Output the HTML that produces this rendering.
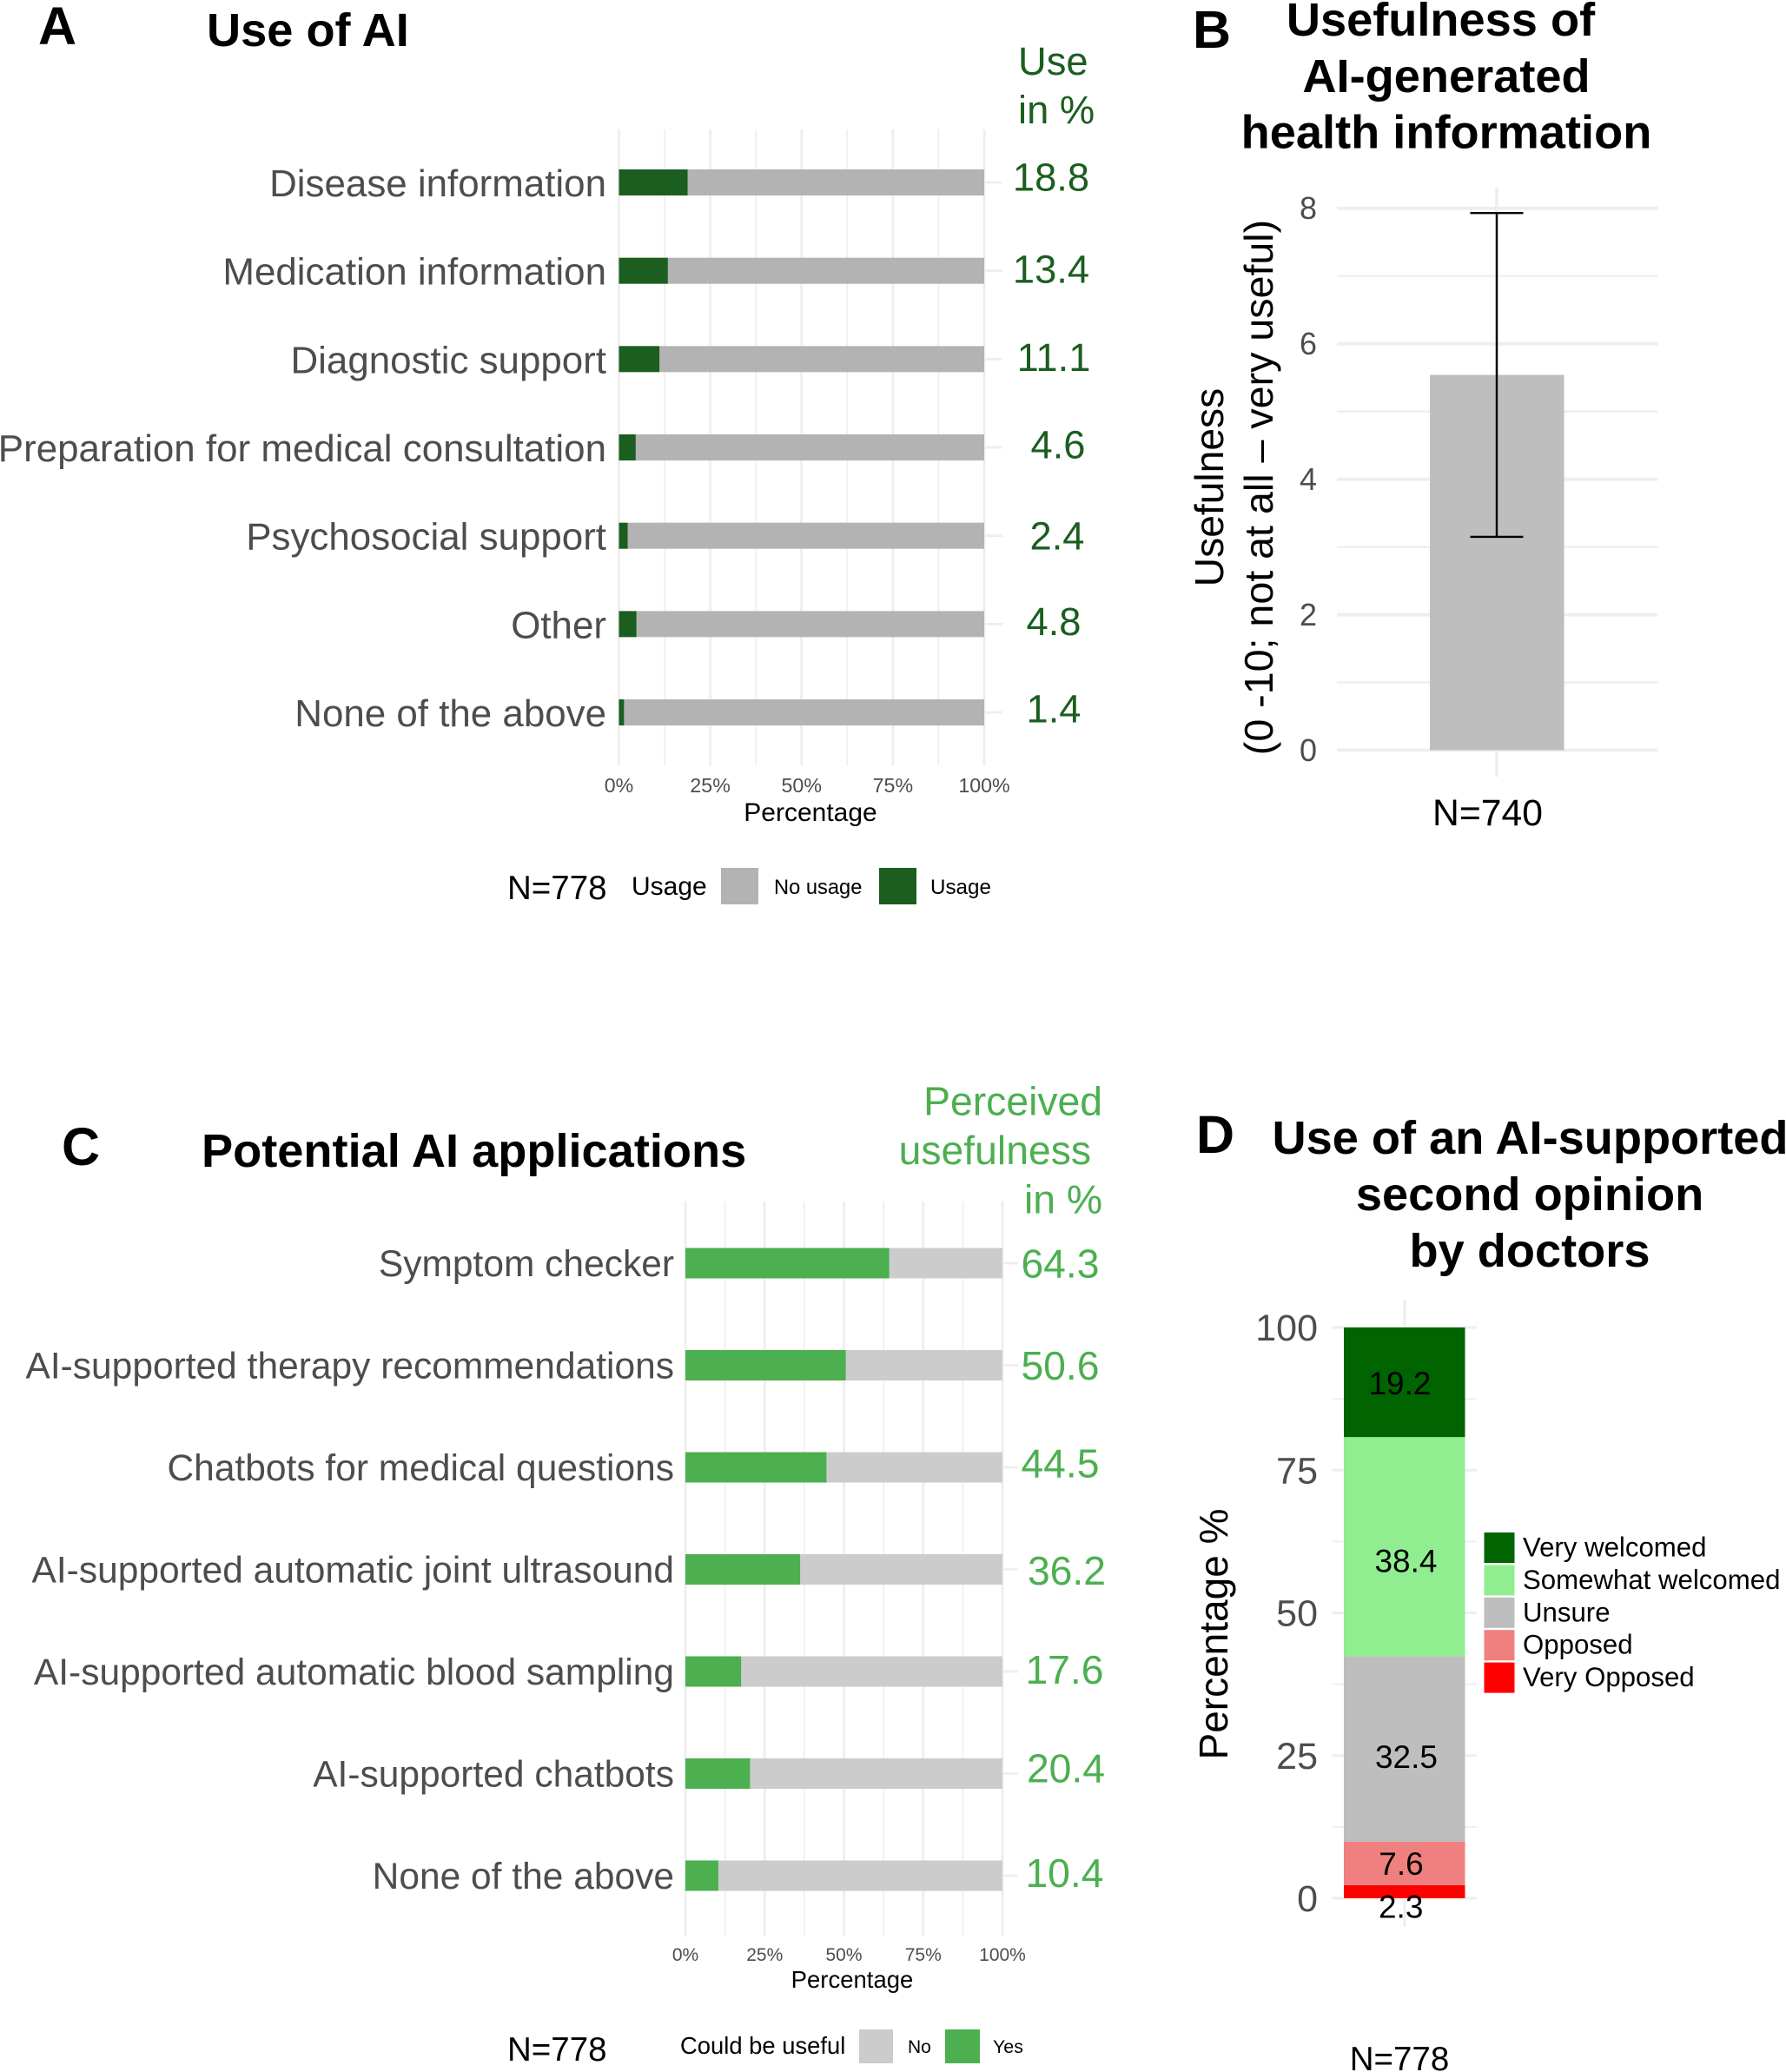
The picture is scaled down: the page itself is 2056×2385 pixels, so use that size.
<!DOCTYPE html>
<html lang="en">
<head>
<meta charset="utf-8">
<title>Use of AI survey figure</title>
<style>
html,body{margin:0;padding:0;background:#fff;}
svg{display:block;}
text{font-family:"Liberation Sans",Arial,sans-serif;}
.title{font-weight:700;font-size:54.2px;fill:#000;}
.letter{font-weight:700;font-size:61px;fill:#000;}
</style>
</head>
<body>
<svg id="figure" xmlns="http://www.w3.org/2000/svg" width="2056" height="2385" viewBox="0 0 2056 2385">
  <rect x="0" y="0" width="2056" height="2385" fill="#ffffff"/>

  <g id="panel-a">
    <text class="letter" x="44" y="51">A</text>
    <text class="title" x="238" y="53">Use of AI</text>
    <text x="1172" y="86" font-size="45.3" fill="#1B5E20">Use</text>
    <text x="1172" y="142" font-size="45.3" fill="#1B5E20">in %</text>
    <text x="933" y="945" font-size="30" fill="#000" text-anchor="middle">Percentage</text>
    <text x="584" y="1035" font-size="38.5" fill="#000">N=778</text>
    <text x="727" y="1030" font-size="30" fill="#000">Usage</text>
    <rect x="830" y="999" width="43" height="42" fill="#B3B3B3"/>
    <text x="891" y="1029" font-size="23.7" fill="#000">No usage</text>
    <rect x="1012" y="999" width="43" height="42" fill="#1B5E20"/>
    <text x="1071" y="1029" font-size="24.2" fill="#000">Usage</text>
  </g>

  <g id="panel-b">
    <text class="letter" x="1373" y="55">B</text>
    <text class="title" x="1658.5" y="41" text-anchor="middle">Usefulness of</text>
    <text class="title" x="1665" y="106" text-anchor="middle">AI-generated</text>
    <text class="title" x="1665" y="170.5" text-anchor="middle">health information</text>
    <text transform="translate(1408 561) rotate(-90)" font-size="46.2" fill="#000" text-anchor="middle">Usefulness</text>
    <text transform="translate(1465 561) rotate(-90)" font-size="46.6" fill="#000" text-anchor="middle">(0 -10; not at all – very useful)</text>
    <text x="1712.5" y="950" font-size="42.7" fill="#000" text-anchor="middle">N=740</text>
  </g>

  <g id="panel-c">
    <text class="letter" x="71" y="1341">C</text>
    <text class="title" x="232" y="1343">Potential AI applications</text>
    <text x="1269" y="1283.5" font-size="46.3" fill="#4CAF50" text-anchor="end">Perceived</text>
    <text x="1256" y="1340" font-size="46.3" fill="#4CAF50" text-anchor="end">usefulness</text>
    <text x="1269" y="1396.5" font-size="46.3" fill="#4CAF50" text-anchor="end">in %</text>
    <text x="981" y="2288" font-size="27.5" fill="#000" text-anchor="middle">Percentage</text>
    <text x="584" y="2372" font-size="38.5" fill="#000">N=778</text>
    <text x="783" y="2364" font-size="27.4" fill="#000">Could be useful</text>
    <rect x="989" y="2336" width="39" height="39" fill="#CCCCCC"/>
    <text x="1045" y="2363" font-size="21" fill="#000">No</text>
    <rect x="1088" y="2336" width="40" height="39" fill="#4CAF50"/>
    <text x="1143" y="2363" font-size="21.4" fill="#000">Yes</text>
  </g>

  <g id="panel-d">
    <text class="letter" x="1377" y="1327">D</text>
    <text class="title" x="1761.5" y="1328" text-anchor="middle">Use of an AI-supported</text>
    <text class="title" x="1761" y="1393" text-anchor="middle">second opinion</text>
    <text class="title" x="1761" y="1458" text-anchor="middle">by doctors</text>
    <text transform="translate(1413 1881) rotate(-90)" font-size="46" fill="#000" text-anchor="middle">Percentage %</text>
    <text x="1611" y="2383" font-size="38.5" fill="#000" text-anchor="middle">N=778</text>
  </g>
</svg>

<script>
// ---- Panel A data ----
const useCategories = ["Disease information","Medication information","Diagnostic support","Preparation for medical consultation","Psychosocial support","Other","None of the above"];
const useValues = [18.8,13.4,11.1,4.6,2.4,4.8,1.4];
const percentTicks = [0,25,50,75,100];
const percentMinorTicks = [12.5,37.5,62.5,87.5];

// ---- Panel B data ----
const usefulnessMean = [5.54];
const usefulnessSd = [2.39];
const usefulnessTicks = [0,2,4,6,8];
const usefulnessMinorTicks = [1,3,5,7];

// ---- Panel C data ----
const appCategories = ["Symptom checker","AI-supported therapy recommendations","Chatbots for medical questions","AI-supported automatic joint ultrasound","AI-supported automatic blood sampling","AI-supported chatbots","None of the above"];
const appValues = [64.3,50.6,44.5,36.2,17.6,20.4,10.4];

// ---- Panel D data (bottom to top) ----
const opinionLevels = ["Very Opposed","Opposed","Unsure","Somewhat welcomed","Very welcomed"];
const opinionValues = [2.3,7.6,32.5,38.4,19.2];
const opinionTicks = [0,25,50,75,100];
const opinionMinorTicks = [12.5,37.5,62.5,87.5];

const NS = "http://www.w3.org/2000/svg";
const GRID = "#EEEEEE";
const AXIS_TEXT = "#4D4D4D";

function make(parent, tag, attrs, content) {
  const el = document.createElementNS(NS, tag);
  Object.keys(attrs).forEach(function (k) { el.setAttribute(k, attrs[k]); });
  if (content !== undefined) el.textContent = content;
  parent.appendChild(el);
  return el;
}
function slug(s) {
  return String(s).toLowerCase().replace(/[^a-z0-9]+/g, "-").replace(/^-|-$/g, "");
}

function drawStackedRows(cfg) {
  const g = document.getElementById(cfg.panel);
  const x = function (v) { return cfg.x0 + v * cfg.xUnit; };
  const y = function (i) { return cfg.y0 + i * cfg.rowStep; };

  cfg.minorTicks.forEach(function (t) {
    const el = make(g, "line", {x1:x(t), x2:x(t), y1:cfg.gridTop, y2:cfg.gridBottom, stroke:GRID, "stroke-width":1.6});
    
    
  });
  cfg.ticks.forEach(function (t) {
    const el = make(g, "line", {x1:x(t), x2:x(t), y1:cfg.gridTop, y2:cfg.gridBottom, stroke:GRID, "stroke-width":2.8});
    
    
    const lab = make(g, "text", {x:x(t), y:cfg.tickBaseline, "font-size":cfg.tickSize, fill:AXIS_TEXT, "text-anchor":"middle"}, t + "%");
    
    
  });

  cfg.categories.forEach(function (cat, i) {
    const v = cfg.values[i];
    const stub = make(g, "line", {x1:x(0), x2:cfg.stubEnd, y1:y(i), y2:y(i), stroke:GRID, "stroke-width":2.8});
    
    

    const rest = make(g, "rect", {x:x(v), y:y(i) - cfg.barH / 2, width:x(100) - x(v), height:cfg.barH, fill:cfg.restColor});
    
    

    const main = make(g, "rect", {x:x(0), y:y(i) - cfg.barH / 2, width:x(v) - x(0), height:cfg.barH, fill:cfg.color});
    
    

    const lab = make(g, "text", {x:cfg.labelEnd, y:y(i) + cfg.labelDy, "font-size":cfg.labelSize, fill:AXIS_TEXT, "text-anchor":"end"}, cat);
    
    

    const nudge = cfg.valueNudge[i];
    const val = make(g, "text", {x:nudge[0], y:y(i) + nudge[1], "font-size":cfg.valueSize, fill:cfg.color, "text-anchor":"middle"}, v.toFixed(1));
    
    
  });
}

drawStackedRows({
  panel:"panel-a", categories:useCategories, values:useValues, ticks:percentTicks, minorTicks:percentMinorTicks,
  x0:712.5, xUnit:4.205, y0:210, rowStep:101.67, barH:30, gridTop:149, gridBottom:881, stubEnd:1154,
  color:"#1B5E20", restColor:"#B3B3B3", labelEnd:698, labelDy:16, labelSize:43.9,
  valueSize:45.3, tickSize:23.2, tickBaseline:912,
  valueNudge:[[1210,9.5],[1210,14],[1213,13.5],[1218,12.5],[1217,16],[1213,12.5],[1213,11.5]]
});

drawStackedRows({
  panel:"panel-c", categories:appCategories, values:appValues, ticks:percentTicks, minorTicks:percentMinorTicks,
  x0:789, xUnit:3.65, y0:1454, rowStep:117.5, barH:35, gridTop:1383, gridBottom:2229, stubEnd:1172,
  color:"#4CAF50", restColor:"#CCCCCC", labelEnd:776, labelDy:15, labelSize:42.5,
  valueSize:46.3, tickSize:21, tickBaseline:2257,
  valueNudge:[[1220.5,16.5],[1220.5,16.5],[1220.5,11.5],[1228,17.5],[1225.5,14],[1227,10],[1225.5,13]]
});

// ---- Panel B ----
(function () {
  const g = document.getElementById("panel-b");
  const cx = 1723;
  const y = function (v) { return 863.5 - v * 77.97; };
  const barLeft = 1646, barRight = 1800.5, capHalf = 30.5, gridL = 1539, gridR = 1908.5;

  const vg = make(g, "line", {x1:cx, x2:cx, y1:216, y2:894, stroke:GRID, "stroke-width":3.6});
  
  

  usefulnessMinorTicks.forEach(function (t) {
    const el = make(g, "line", {x1:gridL, x2:gridR, y1:y(t), y2:y(t), stroke:GRID, "stroke-width":2.2});
    
    
  });
  usefulnessTicks.forEach(function (t) {
    const el = make(g, "line", {x1:gridL, x2:gridR, y1:y(t), y2:y(t), stroke:GRID, "stroke-width":3.8});
    
    
    const lab = make(g, "text", {x:1516, y:y(t) + 12.5, "font-size":36, fill:AXIS_TEXT, "text-anchor":"end"}, t);
    
    
  });

  const m = usefulnessMean[0], sd = usefulnessSd[0];
  const bar = make(g, "rect", {x:barLeft, y:y(m), width:barRight - barLeft, height:y(0) - y(m), fill:"#BEBEBE"});
  
  

  const stem = make(g, "line", {x1:cx, x2:cx, y1:y(m + sd), y2:y(m - sd), stroke:"#000", "stroke-width":2.4});
  
  
  const capTop = make(g, "line", {x1:cx - capHalf, x2:cx + capHalf, y1:y(m + sd), y2:y(m + sd), stroke:"#000", "stroke-width":2.4});
  
  
  const capBottom = make(g, "line", {x1:cx - capHalf, x2:cx + capHalf, y1:y(m - sd), y2:y(m - sd), stroke:"#000", "stroke-width":2.4});
  
  
})();

// ---- Panel D ----
(function () {
  const g = document.getElementById("panel-d");
  const y = function (v) { return 2185 - v * 6.57; };
  const barLeft = 1547, barRight = 1686.5, gridL = 1534, gridR = 1700;
  const fills = {"Very Opposed":"#FF0000","Opposed":"#F08080","Unsure":"#BEBEBE","Somewhat welcomed":"#90EE90","Very welcomed":"#006400"};
  const labelCx = {"Very Opposed":1612.7,"Opposed":1613,"Unsure":1619,"Somewhat welcomed":1618.5,"Very welcomed":1611.5};
  const labelDy = {"Very Opposed":30,"Opposed":13,"Unsure":22,"Somewhat welcomed":29,"Very welcomed":14};

  const vg = make(g, "line", {x1:1617, x2:1617, y1:1496, y2:2218, stroke:GRID, "stroke-width":3});
  
  

  opinionMinorTicks.forEach(function (t) {
    const el = make(g, "line", {x1:gridL, x2:gridR, y1:y(t), y2:y(t), stroke:GRID, "stroke-width":1.8});
    
    
  });
  opinionTicks.forEach(function (t) {
    const el = make(g, "line", {x1:gridL, x2:gridR, y1:y(t), y2:y(t), stroke:GRID, "stroke-width":3});
    
    
    const lab = make(g, "text", {x:1517, y:y(t) + 15, "font-size":43, fill:AXIS_TEXT, "text-anchor":"end"}, t);
    
    
  });

  let cum = 0;
  const labels = [];
  opinionLevels.forEach(function (lvl, i) {
    const v = opinionValues[i];
    const seg = make(g, "rect", {x:barLeft, y:y(cum + v), width:barRight - barLeft, height:y(cum) - y(cum + v), fill:fills[lvl]});
    
    
    labels.push([lvl, v, cum + v / 2]);
    cum += v;
  });
  labels.forEach(function (item) {
    const lab = make(g, "text", {x:labelCx[item[0]], y:y(item[2]) + labelDy[item[0]], "font-size":37, fill:"#000", "text-anchor":"middle"}, item[1].toFixed(1));
    
    
  });

  opinionLevels.slice().reverse().forEach(function (lvl, i) {
    const top = 1764 + i * 37.4;
    const key = make(g, "rect", {x:1708.5, y:top, width:35, height:35, fill:fills[lvl]});
    
    
    const txt = make(g, "text", {x:1753, y:top + 27.5, "font-size":31.2, fill:"#000"}, lvl);
    
    
  });
})();
</script>
</body>
</html>
